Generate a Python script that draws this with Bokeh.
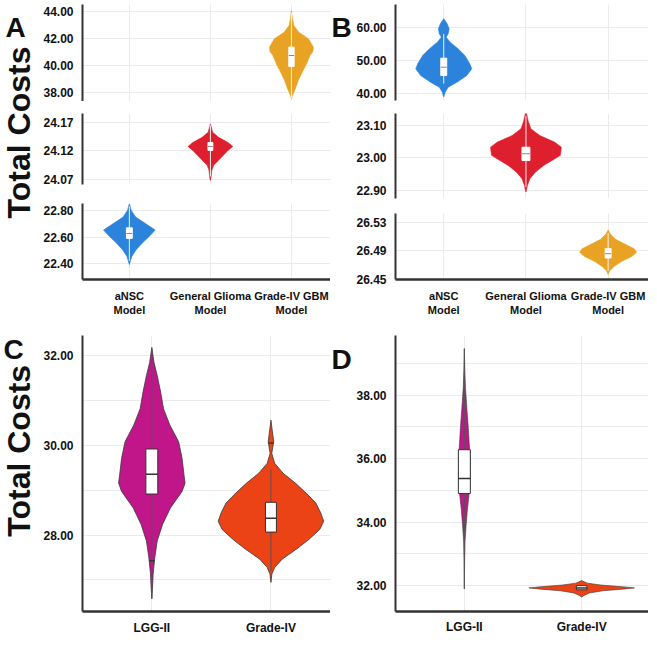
import math
from bokeh.plotting import figure
from bokeh.layouts import row, column
from bokeh.models import Range1d, FixedTicker, PrintfTickFormatter, Label
from bokeh.embed import file_html
from bokeh.resources import INLINE

FONT = "Liberation Sans"

# ---------------- data ----------------
# Panel A (three broken y-axis segments)
a_labels = ["aNSC\nModel", "General Glioma\nModel", "Grade-IV GBM\nModel"]
a_ansc_y = [22.850, 22.800, 22.750, 22.701, 22.652, 22.602, 22.553, 22.504, 22.454, 22.405, 22.393]
a_ansc_w = [0, 0.024, 0.078, 0.199, 0.319, 0.241, 0.157, 0.084, 0.030, 0.006, 0]
a_ansc_box = [22.590, 22.627, 22.669]          # q1, median, q3
a_ansc_whisk = [22.42, 22.83]
a_glioma_y = [24.1677, 24.153, 24.144, 24.135, 24.128, 24.121, 24.112, 24.103, 24.095, 24.086, 24.071, 24.068]
a_glioma_w = [0, 0.028, 0.102, 0.217, 0.277, 0.217, 0.157, 0.096, 0.040, 0.018, 0.006, 0]
a_glioma_box = [24.121, 24.128, 24.135]
a_glioma_whisk = [24.075, 24.165]
a_gbm_y = [44.07, 43.48, 42.96, 42.47, 41.98, 41.36, 41.04, 40.74, 40.13, 39.50, 38.89, 38.27, 37.78, 37.53]
a_gbm_w = [0, 0.012, 0.030, 0.090, 0.211, 0.271, 0.265, 0.229, 0.187, 0.133, 0.084, 0.048, 0.012, 0]
a_gbm_box = [39.93, 40.74, 41.36]
a_gbm_whisk = [37.6, 43.9]
a_ticks_top = [38, 40, 42, 44]
a_ticks_mid = [24.07, 24.12, 24.17]
a_ticks_low = [22.40, 22.60, 22.80]

# Panel B
b_labels = ["aNSC\nModel", "General Glioma\nModel", "Grade-IV GBM\nModel"]
b_ansc_y = [62.64, 61.12, 59.61, 58.09, 57.06, 55.55, 53.55, 51.52, 49.0, 47.48, 45.45, 43.42, 41.91, 40.39, 39.39, 38.88]
b_ansc_w = [0, 0.042, 0.066, 0.054, 0.030, 0.078, 0.174, 0.257, 0.317, 0.341, 0.281, 0.162, 0.054, 0.018, 0.006, 0]
b_ansc_box = [45.45, 47.97, 50.70]
b_ansc_whisk = [43.0, 58.09]
b_glioma_y = [23.146, 23.115, 23.090, 23.069, 23.049, 23.033, 23.008, 22.992, 22.977, 22.956, 22.936, 22.915, 22.900, 22.895]
b_glioma_w = [0, 0.026, 0.060, 0.168, 0.347, 0.431, 0.419, 0.317, 0.216, 0.114, 0.048, 0.018, 0.006, 0]
b_glioma_box = [22.992, 23.013, 23.033]
b_glioma_whisk = [22.91, 23.13]
b_gbm_y = [26.519, 26.513, 26.506, 26.499, 26.493, 26.488, 26.482, 26.475, 26.468, 26.462, 26.457]
b_gbm_w = [0, 0.030, 0.090, 0.210, 0.317, 0.347, 0.287, 0.162, 0.072, 0.018, 0]
b_gbm_box = [26.480, 26.486, 26.493]
b_gbm_whisk = [26.462, 26.515]
b_ticks_top = [40, 50, 60]
b_ticks_mid = [22.90, 23.00, 23.10]
b_ticks_low = [26.45, 26.49, 26.53]

# Panel C
c_labels = ["LGG-II", "Grade-IV"]
c_lgg_y = [32.177, 31.845, 31.551, 31.182, 30.813, 30.446, 30.077, 29.708, 29.341, 29.156, 28.972, 28.603, 28.237, 27.867, 27.498, 27.131, 26.835, 26.579]
c_lgg_w = [0, 0.018, 0.045, 0.074, 0.098, 0.152, 0.225, 0.254, 0.270, 0.279, 0.254, 0.156, 0.090, 0.045, 0.025, 0.011, 0.006, 0]
c_lgg_box = [28.913, 29.355, 29.916]
c_lgg_whisk = [26.6, 32.15]
c_g4_y = [30.557, 30.077, 29.819, 29.598, 29.377, 29.156, 28.935, 28.714, 28.493, 28.309, 28.126, 27.905, 27.684, 27.463, 27.277, 27.131, 26.946]
c_g4_w = [0, 0.023, 0.007, 0.031, 0.102, 0.205, 0.295, 0.377, 0.418, 0.443, 0.410, 0.320, 0.213, 0.094, 0.031, 0.008, 0]
c_g4_box = [28.066, 28.376, 28.729]
c_g4_whisk = [27.2, 29.46]
c_outlier_x = [1, 2]
c_outlier_y = [27.43, 30.05]
c_ticks = [28, 30, 32]
c_minor = [27, 29, 31]

# Panel D
d_labels = ["LGG-II", "Grade-IV"]
d_lgg_y = [39.47, 38.8, 38.2, 37.6, 37.0, 36.5, 36.0, 35.4, 34.9, 34.4, 33.9, 33.4, 32.8, 31.9]
d_lgg_w = [0, 0.004, 0.010, 0.021, 0.033, 0.041, 0.050, 0.050, 0.041, 0.026, 0.015, 0.006, 0.0025, 0]
d_lgg_box = [34.90, 35.37, 36.28]
d_lgg_whisk = [31.9, 39.45]
d_g4_y = [32.16, 32.08, 32.02, 31.96, 31.93, 31.89, 31.84, 31.77, 31.70, 31.64]
d_g4_w = [0, 0.050, 0.165, 0.372, 0.450, 0.347, 0.182, 0.066, 0.025, 0]
d_g4_box = [31.87, 31.93, 32.00]
d_ticks = [32, 34, 36, 38]
d_minor = [33, 35, 37, 39]

BLUE = "#2C83DB"
RED = "#DD1F2E"
ORANGE = "#E9A324"
MAGENTA = "#C0168A"
ORANGERED = "#EB4216"
GRID = "#EBEBEB"
AXIS = "#333333"


def make_fig(width, height, xr, yr, yticks, mb_left, mb_top, mb_bottom,
             xlabels=None, minor=None, xsize="11px", ncat=3, xstand=4):
    p = figure(width=width, height=height, x_range=Range1d(*xr), y_range=Range1d(*yr),
               output_backend="svg", toolbar_location=None,
               x_axis_location="below" if xlabels else None,
               min_border_left=mb_left, min_border_right=0,
               min_border_top=mb_top, min_border_bottom=mb_bottom)
    p.outline_line_color = None
    p.background_fill_color = "white"
    p.border_fill_color = "white"
    yt = FixedTicker(ticks=yticks, minor_ticks=minor or [])
    p.yaxis.ticker = yt
    p.yaxis.formatter = PrintfTickFormatter(format="%.2f")
    p.yaxis.axis_line_color = AXIS
    p.yaxis.axis_line_width = 2
    p.yaxis.major_tick_line_color = None
    p.yaxis.minor_tick_line_color = None
    p.yaxis.major_label_standoff = 3
    p.yaxis.major_label_text_font = FONT
    p.yaxis.major_label_text_font_style = "bold"
    p.yaxis.major_label_text_font_size = "12px"
    p.yaxis.major_label_text_color = "#111111"
    p.ygrid.ticker = yt
    p.ygrid.grid_line_color = GRID
    p.ygrid.grid_line_width = 1
    if minor:
        p.ygrid.minor_grid_line_color = GRID
    cat_pos = list(range(1, ncat + 1))
    p.xgrid.ticker = FixedTicker(ticks=cat_pos)
    p.xgrid.grid_line_color = GRID
    if xlabels:
        p.xaxis.ticker = FixedTicker(ticks=cat_pos)
        p.xaxis.major_label_overrides = {i + 1: lab for i, lab in enumerate(xlabels)}
        p.xaxis.axis_line_color = AXIS
        p.xaxis.axis_line_width = 2.5
        p.xaxis.major_tick_line_color = None
        p.xaxis.minor_tick_line_color = None
        p.xaxis.major_label_standoff = xstand
        p.xaxis.major_label_text_font = FONT
        p.xaxis.major_label_text_font_style = "bold"
        p.xaxis.major_label_text_font_size = xsize
        p.xaxis.major_label_text_color = "#111111"
    return p


def violin(p, center, ys, ws, color, outline=None, lw=0.6):
    xs = [center + w for w in ws] + [center - w for w in reversed(ws)]
    yy = list(ys) + list(reversed(ys))
    p.patch(xs, yy, fill_color=color, line_color=outline or color, line_width=lw)


def box(p, center, stats, half, whisk=None, dark=False):
    q1, med, q3 = stats
    wcol = "#555555" if dark else "#F2F2F2"
    if whisk:
        p.segment([center], [whisk[0]], [center], [whisk[1]], line_color=wcol, line_width=1)
    p.quad(left=[center - half], right=[center + half], bottom=[q1], top=[q3],
           fill_color="white", line_color=AXIS if dark else "white", line_width=1)
    p.segment([center - half], [med], [center + half], [med],
              line_color=AXIS if dark else "#8A8A8A", line_width=1.5 if dark else 1)


def strip(width, height, letter, letter_x, letter_y, title_y=None):
    s = figure(width=width, height=height, x_range=Range1d(0, width), y_range=Range1d(0, height),
               output_backend="svg", toolbar_location=None,
               x_axis_location=None, y_axis_location=None,
               min_border_left=0, min_border_right=0, min_border_top=0, min_border_bottom=0)
    s.outline_line_color = None
    s.background_fill_color = "white"
    s.border_fill_color = "white"
    s.xgrid.visible = False
    s.ygrid.visible = False
    s.add_layout(Label(x=letter_x, y=letter_y, text=letter, text_font=FONT, text_font_style="bold",
                       text_font_size="28px", text_color="#111111",
                       text_align="left", text_baseline="alphabetic"))
    if title_y is not None:
        s.add_layout(Label(x=18, y=title_y, text="Total Costs", angle=math.pi / 2,
                           text_font=FONT, text_font_style="bold", text_font_size="32px",
                           text_color="#111111", text_align="center", text_baseline="middle"))
    return s


# ---------------- Panel A ----------------
AX = (0.4217, 3.482)
a1 = make_fig(290, 101, AX, (37.33, 44.52), a_ticks_top, 36, 4, 0)
violin(a1, 3, a_gbm_y, a_gbm_w, ORANGE)
box(a1, 3, a_gbm_box, 0.033, a_gbm_whisk)

a2 = make_fig(290, 86, AX, (24.061, 24.186), a_ticks_mid, 36, 12, 3)
violin(a2, 2, a_glioma_y, a_glioma_w, RED)
box(a2, 2, a_glioma_box, 0.03, a_glioma_whisk)

a3 = make_fig(290, 131, AX, (22.281, 22.852), a_ticks_low, 36, 16, 38, xlabels=a_labels)
violin(a3, 1, a_ansc_y, a_ansc_w, BLUE)
box(a3, 1, a_ansc_box, 0.036, a_ansc_whisk)

# ---------------- Panel B ----------------
BX = (0.413, 3.491)
b1 = make_fig(295, 102, BX, (37.88, 66.97), b_ticks_top, 38, 4, 2)
violin(b1, 1, b_ansc_y, b_ansc_w, BLUE)
box(b1, 1, b_ansc_box, 0.036, b_ansc_whisk)

b2 = make_fig(295, 98, BX, (22.875, 23.137), b_ticks_mid, 38, 11, 2)
violin(b2, 2, b_glioma_y, b_glioma_w, RED)
box(b2, 2, b_glioma_box, 0.048, b_glioma_whisk)

b3 = make_fig(295, 118, BX, (26.45, 26.542), b_ticks_low, 38, 13, 36, xlabels=b_labels)
violin(b3, 3, b_gbm_y, b_gbm_w, ORANGE)
box(b3, 3, b_gbm_box, 0.036, b_gbm_whisk)

# ---------------- Panel C ----------------
c = make_fig(290, 328, (0.418, 2.5), (26.298, 32.442), c_ticks, 36, 15, 35,
             xlabels=c_labels, minor=c_minor, xsize="12px", ncat=2, xstand=3)
violin(c, 1, c_lgg_y, c_lgg_w, MAGENTA, outline="#3A3A3A", lw=0.8)
violin(c, 2, c_g4_y, c_g4_w, ORANGERED, outline="#3A3A3A", lw=0.8)
box(c, 1, c_lgg_box, 0.05, c_lgg_whisk, dark=True)
box(c, 2, c_g4_box, 0.046, c_g4_whisk, dark=True)
c.scatter(c_outlier_x, c_outlier_y, marker="dash", size=5, line_color="#333333", line_width=1.5)

# ---------------- Panel D ----------------
d = make_fig(295, 328, (0.413, 2.57), (31.1875, 39.875), d_ticks, 34, 17, 33,
             xlabels=d_labels, minor=d_minor, xsize="12px", ncat=2, xstand=2)
violin(d, 1, d_lgg_y, d_lgg_w, MAGENTA, outline="#3A3A3A", lw=0.6)
violin(d, 2, d_g4_y, d_g4_w, ORANGERED, outline="#3A3A3A", lw=0.6)
box(d, 1, d_lgg_box, 0.051, d_lgg_whisk, dark=True)
box(d, 2, d_g4_box, 0.045, None, dark=True)

# ---------------- side strips (panel letters and axis titles) ----------------
sA = strip(40, 318, "A", 5, 291, 186)
sB = strip(23, 318, "B", 1, 291)
sC = strip(40, 328, "C", 3, 311, 191)
sD = strip(23, 328, "D", 1, 299)

top = row(sA, column(a1, a2, a3), sB, column(b1, b2, b3))
bottom = row(sC, c, sD, d)
root = column(top, bottom)

open("out.html", "w").write(file_html(root, INLINE))
